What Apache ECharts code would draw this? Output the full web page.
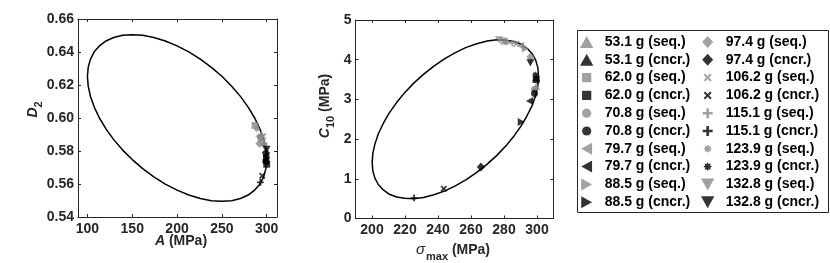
<!DOCTYPE html>
<html>
<head>
<meta charset="utf-8">
<script src="https://cdn.jsdelivr.net/npm/echarts@6/dist/echarts.min.js"></script>
<style>
html,body{margin:0;padding:0;background:#fff;}
#chart{width:830px;height:263px;}
</style>
</head>
<body>
<div id="chart"></div>
<script>
// ---------------- data ----------------
const masses = ['53.1','62.0','70.8','79.7','88.5','97.4','106.2','115.1','123.9','132.8'];

// left panel: A (MPa) vs D2
const seqA   = [297, 287, 293, 291, 295, 292, 296, 294, 289, 297];
const seqD2  = [0.585, 0.5955, 0.588, 0.589, 0.587, 0.5845, 0.589, 0.590, 0.5935, 0.583];
const cncrA  = [299.5, 300, 299, 299, 300, 299, 295, 293, 299.5, 300];
const cncrD2 = [0.575, 0.572, 0.574, 0.577, 0.576, 0.579, 0.565, 0.561, 0.573, 0.581];

// right panel: sigma_max (MPa) vs C10 (MPa)
const seqSigma  = [299.5, 280, 298.5, 290, 293, 296, 287.5, 285, 281.5, 277];
const seqC10    = [3.33, 4.47, 3.25, 4.35, 4.28, 4.07, 4.40, 4.42, 4.44, 4.50];
const cncrSigma = [299.5, 299.5, 298.5, 295.5, 290.5, 266, 243.5, 225.5, 299, 296];
const cncrC10   = [3.55, 3.50, 3.15, 2.96, 2.43, 1.30, 0.75, 0.52, 3.62, 3.92];

// confidence ellipses
const ellipseA  = [300, 299.1, 296.6, 292.4, 286.6, 279.3, 270.7, 260.9, 250, 238.3, 225.9, 213.1, 200, 186.9, 174.1, 161.7,
                   150, 139.1, 129.3, 120.7, 113.4, 107.6, 103.4, 100.9, 100, 100.9, 103.4, 107.6, 113.4, 120.7, 129.3, 139.1,
                   150, 161.7, 174.1, 186.9, 200, 213.1, 225.9, 238.3, 250, 260.9, 270.7, 279.3, 286.6, 292.4, 296.6, 299.1, 300];
const ellipseD2 = [0.5748, 0.5807, 0.5869, 0.5934, 0.6000, 0.6066, 0.6131, 0.6193, 0.6253, 0.6307, 0.6357, 0.6401, 0.6437, 0.6467, 0.6488, 0.6501,
                   0.6505, 0.6501, 0.6488, 0.6467, 0.6437, 0.6401, 0.6357, 0.6307, 0.6253, 0.6193, 0.6131, 0.6066, 0.6000, 0.5934, 0.5869, 0.5807,
                   0.5748, 0.5693, 0.5643, 0.5599, 0.5563, 0.5533, 0.5512, 0.5499, 0.5495, 0.5499, 0.5512, 0.5533, 0.5563, 0.5599, 0.5643, 0.5693, 0.5748];
const ellipseSigma = [300.9, 300.5, 299.2, 297.1, 294.1, 290.5, 286.1, 281.2, 275.7, 269.8, 263.5, 257.1, 250.5, 243.9, 237.5, 231.2,
                      225.3, 219.8, 214.9, 210.5, 206.9, 203.9, 201.8, 200.5, 200.1, 200.5, 201.8, 203.9, 206.9, 210.5, 214.9, 219.8,
                      225.3, 231.2, 237.5, 243.9, 250.5, 257.1, 263.5, 269.8, 275.7, 281.2, 286.1, 290.5, 294.1, 297.1, 299.2, 300.5, 300.9];
const ellipseC10   = [3.59, 3.80, 3.99, 4.15, 4.28, 4.39, 4.46, 4.49, 4.50, 4.47, 4.40, 4.31, 4.18, 4.02, 3.84, 3.63,
                      3.41, 3.17, 2.92, 2.66, 2.40, 2.14, 1.88, 1.64, 1.41, 1.20, 1.01, 0.85, 0.72, 0.61, 0.54, 0.51,
                      0.50, 0.53, 0.60, 0.69, 0.82, 0.98, 1.16, 1.37, 1.59, 1.83, 2.08, 2.34, 2.60, 2.85, 3.10, 3.34, 3.59];

// ticks
const leftXTicks  = [100, 150, 200, 250, 300];
const leftYTicks  = [0.54, 0.56, 0.58, 0.60, 0.62, 0.64, 0.66];
const rightXTicks = [200, 220, 240, 260, 280, 300];
const rightYTicks = [0, 1, 2, 3, 4, 5];

// ---------------- styles ----------------
const FONT = 'Liberation Sans, Arial, Helvetica, sans-serif';
const AX = '#262626';
const GRAY = '#8a8a8a';
const symUp     = 'path://M5,0L10,9L0,9Z';
const symSquare = 'path://M-1.5,-1.5M11.5,11.5M0,0H10V10H0Z';
const symCircle = 'path://M-1.5,-1.5M11.5,11.5M10,5A5,5,0,1,1,0,5A5,5,0,1,1,10,5Z';
const symLeft   = 'path://M9,0L9,10L0,5Z';
const symRight  = 'path://M0,0L0,10L9,5Z';
const symDown   = 'path://M0,0L10,0L5,9Z';
const symDiam   = 'path://M5.5,0L11,6L5.5,12L0,6Z';
const symX      = 'path://M-2.5,-2.5M12.5,12.5M0,1.8L1.8,0L5,3.2L8.2,0L10,1.8L6.8,5L10,8.2L8.2,10L5,6.8L1.8,10L0,8.2L3.2,5Z';
const symPlus   = 'path://M-1,-1M11,11M3.7,0H6.3V3.7H10V6.3H6.3V10H3.7V6.3H0V3.7H3.7Z';
const symStar   = 'path://M-2,-2M12,12M10,5L7.96,6.22L8.54,8.54L6.22,7.96L5,10L3.78,7.96L1.46,8.54L2.04,6.22L0,5L2.04,3.78L1.46,1.46L3.78,2.04L5,0L6.22,2.04L8.54,1.46L7.96,3.78Z';
const markerSymbols = [symUp, symSquare, symCircle, symLeft, symRight, symDiam, symX, symPlus, symStar, symDown];
const markerSizes   = [8, 9, 9, 8, 8, 9, 10, 8, 10, 8];

function zip(xs, ys){ return xs.map((x,i)=>[x, ys[i]]); }

function xAx(grid, min, max, ticks, pos, labels){
  return {
    type:'value', gridIndex:grid, min:min, max:max, position:pos,
    axisLine:{show:true, onZero:false, lineStyle:{color:AX, width:1}},
    axisTick:{show:true, inside:true, length:3, customValues:ticks, lineStyle:{color:AX}},
    axisLabel:{show:labels, customValues:ticks, margin:5, color:AX, fontSize:14, fontWeight:'bold', fontFamily:FONT},
    splitLine:{show:false}
  };
}
function yAx(grid, min, max, ticks, pos, labels, fmt){
  return {
    type:'value', gridIndex:grid, min:min, max:max, position:pos,
    axisLine:{show:true, onZero:false, lineStyle:{color:AX, width:1}},
    axisTick:{show:true, inside:true, length:3, customValues:ticks, lineStyle:{color:AX}},
    axisLabel:{show:labels, customValues:ticks, margin:4, color:AX, fontSize:14, fontWeight:'bold', fontFamily:FONT, formatter:fmt},
    splitLine:{show:false}
  };
}

const series = [
  {type:'line', xAxisIndex:0, yAxisIndex:0, data:zip(ellipseA, ellipseD2), smooth:false, showSymbol:false, symbol:'none', silent:true,
   lineStyle:{color:'#000', width:1.5, join:'round'}, z:1},
  {type:'line', xAxisIndex:2, yAxisIndex:2, data:zip(ellipseSigma, ellipseC10), smooth:false, showSymbol:false, symbol:'none', silent:true,
   lineStyle:{color:'#000', width:1.5, join:'round'}, z:1}
];
masses.forEach((m,i)=>{
  const common = {type:'scatter', symbol:markerSymbols[i], symbolSize:markerSizes[i], symbolKeepAspect:true, z:3};
  const sName = m + ' g (seq.)';
  series.push(Object.assign({}, common, {name:sName, xAxisIndex:0, yAxisIndex:0, data:[[seqA[i], seqD2[i]]], itemStyle:{color:GRAY}}));
  series.push(Object.assign({}, common, {name:sName, xAxisIndex:2, yAxisIndex:2, data:[[seqSigma[i], seqC10[i]]], itemStyle:{color:GRAY}}));
});
masses.forEach((m,i)=>{
  const common = {type:'scatter', symbol:markerSymbols[i], symbolSize:markerSizes[i], symbolKeepAspect:true, z:4};
  const cName = m + ' g (cncr.)';
  series.push(Object.assign({}, common, {name:cName, xAxisIndex:0, yAxisIndex:0, data:[[cncrA[i], cncrD2[i]]], itemStyle:{color:'#000'}}));
  series.push(Object.assign({}, common, {name:cName, xAxisIndex:2, yAxisIndex:2, data:[[cncrSigma[i], cncrC10[i]]], itemStyle:{color:'#000'}}));
});

const legendNames = [];
masses.forEach(m=>{ legendNames.push(m + ' g (seq.)'); legendNames.push(m + ' g (cncr.)'); });

function legendAt(left, names){
  return {
    orient:'vertical', left:left, top:35, padding:0, itemGap:3.8, itemWidth:26, itemHeight:12,
    selectedMode:false, data:names,
    textStyle:{fontSize:14, fontWeight:'bold', fontFamily:FONT, color:'#000', lineHeight:14}
  };
}

const mainStyle = {fontSize:14, fontWeight:'bold', fontFamily:FONT, fill:AX};
const option = {
  animation:false,
  backgroundColor:'#fff',
  grid:[
    {left:78, top:19, width:199, height:198, outerBoundsMode:'none', containLabel:false},
    {left:355.5, top:20, width:198, height:198.5, outerBoundsMode:'none', containLabel:false}
  ],
  xAxis:[
    xAx(0, 89.5, 311.5, leftXTicks, 'bottom', true),
    xAx(0, 89.5, 311.5, leftXTicks, 'top', false),
    xAx(1, 190, 310, rightXTicks, 'bottom', true),
    xAx(1, 190, 310, rightXTicks, 'top', false)
  ],
  yAxis:[
    yAx(0, 0.54, 0.66, leftYTicks, 'left', true, v=>v.toFixed(2)),
    yAx(0, 0.54, 0.66, leftYTicks, 'right', false),
    yAx(1, 0, 5, rightYTicks, 'left', true, v=>String(Math.round(v))),
    yAx(1, 0, 5, rightYTicks, 'right', false)
  ],
  legend:[legendAt(580, legendNames.slice(0,10)), legendAt(701, legendNames.slice(10))],
  graphic:[
    {type:'rect', shape:{x:577.5, y:30.5, width:251, height:182}, style:{fill:'none', stroke:'#262626', lineWidth:1}, silent:true},
    {type:'text', x:181, y:241, style:{text:'{i|A}{n| (MPa)}', align:'center', verticalAlign:'middle',
      rich:{i:Object.assign({}, mainStyle, {fontStyle:'italic'}), n:mainStyle}}},
    {type:'text', x:453, y:250, style:{text:'{g|σ}{s|max}{n| (MPa)}', align:'center', verticalAlign:'middle',
      rich:{g:{fontSize:15, fontStyle:'italic', fontFamily:FONT, fill:AX},
            s:{fontSize:11, fontWeight:'bold', fontFamily:FONT, fill:AX, padding:[14,0,0,1]},
            n:mainStyle}}},
    {type:'text', x:33, y:109.5, rotation:Math.PI/2, style:{text:'{i|D}{s|2}', align:'center', verticalAlign:'middle',
      rich:{i:Object.assign({}, mainStyle, {fontStyle:'italic'}),
            s:{fontSize:11, fontWeight:'bold', fontFamily:FONT, fill:AX, padding:[12,0,0,0]}}}},
    {type:'text', x:325, y:106, rotation:Math.PI/2, style:{text:'{i|C}{s|10}{n| (MPa)}', align:'center', verticalAlign:'middle',
      rich:{i:Object.assign({}, mainStyle, {fontStyle:'italic'}),
            s:{fontSize:11, fontWeight:'bold', fontFamily:FONT, fill:AX, padding:[12,0,0,0]},
            n:mainStyle}}}
  ],
  series:series
};

const chart = echarts.init(document.getElementById('chart'), null, {renderer:'canvas'});
chart.setOption(option);
</script>
</body>
</html>
